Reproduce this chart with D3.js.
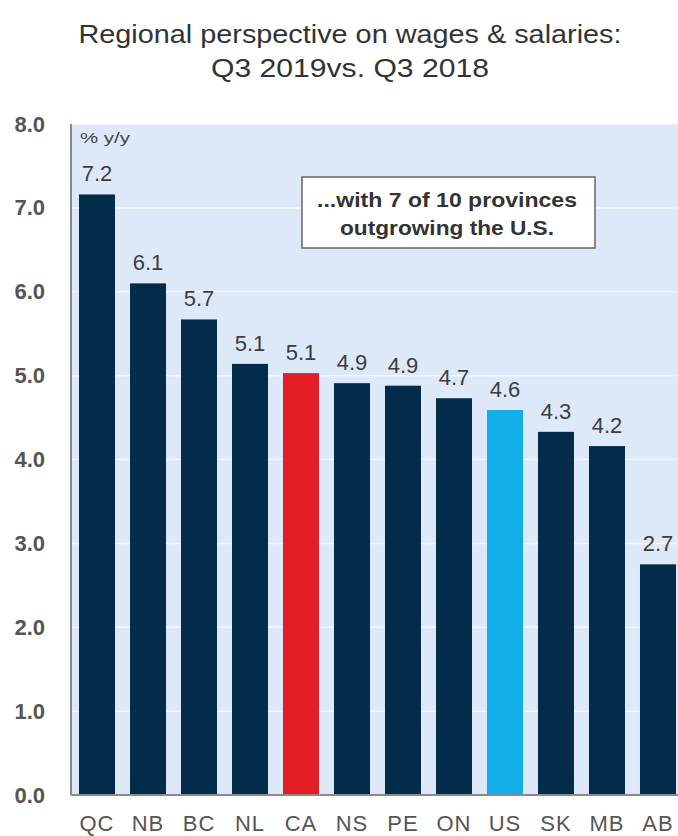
<!DOCTYPE html>
<html>
<head>
<meta charset="utf-8">
<script src="https://cdn.jsdelivr.net/npm/d3@7"></script>
<style>
  body { margin: 0; background: #fff; }
  text { font-family: "Liberation Sans", Arial, sans-serif; }
</style>
</head>
<body>
<div id="chart"></div>
<script>
// data
var regions = ["QC", "NB", "BC", "NL", "CA", "NS", "PE", "ON", "US", "SK", "MB", "AB"];
var values = [7.16, 6.1, 5.67, 5.14, 5.03, 4.91, 4.88, 4.73, 4.59, 4.33, 4.16, 2.75];
var valueLabels = ["7.2", "6.1", "5.7", "5.1", "5.1", "4.9", "4.9", "4.7", "4.6", "4.3", "4.2", "2.7"];
var yTicks = [0, 1, 2, 3, 4, 5, 6, 7, 8];
var titleLines = ["Regional perspective on wages & salaries:", "Q3 2019vs. Q3 2018"];
var noteLines = ["...with 7 of 10 provinces", "outgrowing the U.S."];

function init() {
    var W = 678, H = 836;
    var left = 71, right = 684, top = 124, bottom = 795;

    var svg = d3.select("#chart")
                .append("svg")
                .attr("width", W)
                .attr("height", H);

    var x = d3.scaleBand()
              .domain(regions)
              .range([left, right])
              .paddingInner(0.294)
              .paddingOuter(0.157);

    var y = d3.scaleLinear().domain([0, 8]).range([bottom, top]);

    // plot background
    svg.append("rect")
       .attr("x", left)
       .attr("y", top)
       .attr("width", W - left)
       .attr("height", bottom - top)
       .attr("fill", "#dde9f9");

    // gridlines
    svg.append("g")
       .selectAll("line")
       .data(yTicks.slice(1))
       .join("line")
       .attr("x1", left)
       .attr("x2", W)
       .attr("y1", function(d) { return y(d); })
       .attr("y2", function(d) { return y(d); })
       .attr("stroke", "#f3f7fd")
       .attr("stroke-width", 1.5);

    // bars
    svg.append("g")
       .selectAll("rect")
       .data(regions)
       .join("rect")
       .attr("x", function(d) { return x(d); })
       .attr("y", function(d, i) { return y(values[i]); })
       .attr("width", x.bandwidth())
       .attr("height", function(d, i) { return y(0) - y(values[i]); })
       .attr("fill", function(d) {
           if (d === "CA") return "#e31d24";
           if (d === "US") return "#12aeea";
           return "#022c4a";
       });

    // value labels
    svg.append("g")
       .selectAll("text")
       .data(regions)
       .join("text")
       .attr("x", function(d) { return x(d) + x.bandwidth() / 2; })
       .attr("y", function(d, i) { return y(values[i]) - 13; })
       .attr("text-anchor", "middle")
       .attr("font-size", 22)
       .attr("fill", "#3d3d3d")
       .text(function(d, i) { return valueLabels[i]; });

    // y axis
    var yAxis = d3.axisLeft(y)
                  .tickValues(yTicks)
                  .tickSize(0)
                  .tickPadding(26)
                  .tickFormat(d3.format(".1f"));

    var gy = svg.append("g")
                .attr("transform", "translate(" + left + ",0)")
                .call(yAxis);
    gy.select(".domain").remove();
    gy.selectAll("text")
      .attr("font-size", 22)
      .attr("font-weight", "bold")
      .attr("fill", "#555")
      .style("font-family", "'Liberation Sans', Arial, sans-serif");

    // x axis
    var xAxis = d3.axisBottom(x).tickSize(0).tickPadding(20);
    var gx = svg.append("g")
                .attr("transform", "translate(0," + bottom + ")")
                .call(xAxis);
    gx.select(".domain").remove();
    gx.selectAll("text")
      .attr("font-size", 22)
      .attr("letter-spacing", 1)
      .attr("fill", "#555")
      .style("font-family", "'Liberation Sans', Arial, sans-serif");

    // axis lines
    svg.append("line")
       .attr("x1", left).attr("x2", left)
       .attr("y1", top).attr("y2", bottom)
       .attr("stroke", "#8a8a8a")
       .attr("stroke-width", 2);
    svg.append("line")
       .attr("x1", left).attr("x2", W)
       .attr("y1", bottom).attr("y2", bottom)
       .attr("stroke", "#8a8a8a")
       .attr("stroke-width", 2);

    // units
    svg.append("text")
       .attr("x", 80)
       .attr("y", 143)
       .attr("font-size", 15)
       .attr("fill", "#444")
       .attr("textLength", 50)
       .attr("lengthAdjust", "spacingAndGlyphs")
       .text("% y/y");

    // title
    svg.append("g")
       .selectAll("text")
       .data(titleLines)
       .join("text")
       .attr("x", 350)
       .attr("y", function(d, i) { return 43 + i * 34; })
       .attr("text-anchor", "middle")
       .attr("font-size", 26)
       .attr("fill", "#333")
       .attr("textLength", function(d, i) { return i === 0 ? 543 : 278; })
       .attr("lengthAdjust", "spacingAndGlyphs")
       .text(function(d) { return d; });

    // annotation box
    svg.append("rect")
       .attr("x", 302)
       .attr("y", 177)
       .attr("width", 293)
       .attr("height", 71)
       .attr("fill", "#fff")
       .attr("stroke", "#666")
       .attr("stroke-width", 1.5);

    svg.append("g")
       .selectAll("text")
       .data(noteLines)
       .join("text")
       .attr("x", 447)
       .attr("y", function(d, i) { return 207 + i * 28; })
       .attr("text-anchor", "middle")
       .attr("font-size", 20)
       .attr("font-weight", "bold")
       .attr("fill", "#333")
       .attr("textLength", function(d, i) { return i === 0 ? 260 : 214; })
       .attr("lengthAdjust", "spacingAndGlyphs")
       .text(function(d) { return d; });
}

window.onload = init;
</script>
</body>
</html>
